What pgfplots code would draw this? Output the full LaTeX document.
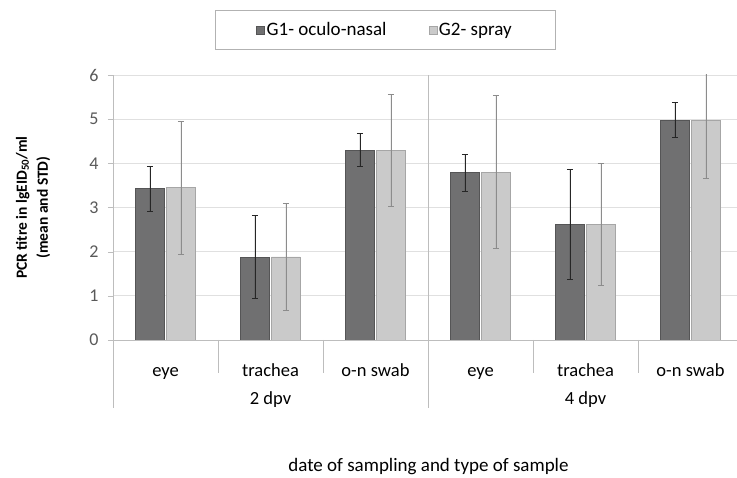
\documentclass[border=0pt]{standalone}
\usepackage{fontspec}
\setmainfont{Carlito}
\usepackage{pgfplots}
\pgfplotsset{compat=1.18}
\definecolor{gone}{HTML}{707071}
\definecolor{goneedge}{HTML}{555556}
\definecolor{gtwo}{HTML}{CACACA}
\definecolor{gtwoedge}{HTML}{A6A6A6}
\definecolor{ticktext}{HTML}{595959}
\definecolor{sepline}{HTML}{BDBDBD}

\begin{document}
\begin{tikzpicture}[x=1pt,y=1pt]
\useasboundingbox (0,0) rectangle (737,478);
\begin{axis}[
  at={(113pt,138pt)}, anchor=south west,
  scale only axis, width=630pt, height=265pt,
  xmin=-0.5, xmax=5.5, ymin=0, ymax=6,
  ybar, bar width=29pt,
  clip mode=individual,
  axis lines*=left,
  axis line style={sepline, line width=0.8pt},
  /pgf/number format/assume math mode=true,
  xtick={0,...,5},
  xticklabels={eye,trachea,o-n swab,eye,trachea,o-n swab},
  major x tick style={draw=none},
  xticklabel style={font=\fontsize{18.5}{20}\selectfont, anchor=center,
    text height=13pt, text depth=4pt, yshift=-27.5pt},
  ytick={0,...,6},
  tick align=outside, major tick length=5pt,
  major y tick style={sepline},
  yticklabel style={font=\fontsize{18}{20}\selectfont, text=ticktext, xshift=-6pt},
  ymajorgrids, grid style={black!12, line width=0.7pt},
  ylabel={PCR titre in lgEID$_{\mathbf{50}}$/ml\\(mean and STD)},
  ylabel style={at={(axis description cs:-0.1270,0.5)}, anchor=center,
    align=center, font=\bfseries\fontsize{15.5}{21}\selectfont},
  xlabel={date of sampling and type of sample},
  xlabel style={at={(axis description cs:0.5008,-0.479)}, anchor=center,
    font=\fontsize{19}{21}\selectfont},
  legend columns=2,
  legend style={at={(axis description cs:0.4317,1.1698)}, anchor=center,
    draw=black!30, font=\fontsize{19}{21}\selectfont,
    inner xsep=41pt, inner ysep=10pt,
    /tikz/every even column/.append style={column sep=40pt}},
  legend image code/.code={\draw[#1] (0pt,-4pt) rectangle (8pt,4pt);},
]
% G1 - oculo-nasal
\addplot[fill=gone, draw=goneedge,
  error bars/.cd, y dir=both, y explicit,
  error bar style={black!85, line width=0.9pt},
  error mark options={rotate=90, mark size=3pt, black!85, line width=0.9pt}]
  coordinates {
    (0,3.43) +- (0,0.51)
    (1,1.87) +- (0,0.94)
    (2,4.30) +- (0,0.37)
    (3,3.79) +- (0,0.42)
    (4,2.62) +- (0,1.24)
    (5,4.98) +- (0,0.40)
  };
% G2 - spray
\addplot[fill=gtwo, draw=gtwoedge,
  error bars/.cd, y dir=both, y explicit,
  error bar style={black!45, line width=0.7pt},
  error mark options={rotate=90, mark size=3pt, black!45, line width=0.7pt}]
  coordinates {
    (0,3.45) +- (0,1.51)
    (1,1.88) +- (0,1.22)
    (2,4.30) +- (0,1.27)
    (3,3.80) +- (0,1.73)
    (4,2.62) +- (0,1.39)
    (5,4.98) +- (0,1.32)
  };
\legend{G1- oculo-nasal, G2- spray}
% divider between the two sampling days
\draw[sepline, line width=0.8pt] (axis cs:2.5,0) -- (axis cs:2.5,6);
% category separators below the axis
\draw[sepline, line width=0.8pt] (axis cs:0.5,0) -- ([yshift=-33pt]axis cs:0.5,0);
\draw[sepline, line width=0.8pt] (axis cs:1.5,0) -- ([yshift=-33pt]axis cs:1.5,0);
\draw[sepline, line width=0.8pt] (axis cs:3.5,0) -- ([yshift=-33pt]axis cs:3.5,0);
\draw[sepline, line width=0.8pt] (axis cs:4.5,0) -- ([yshift=-33pt]axis cs:4.5,0);
\draw[sepline, line width=0.8pt] (axis cs:-0.5,0) -- ([yshift=-68pt]axis cs:-0.5,0);
\draw[sepline, line width=0.8pt] (axis cs:2.5,0) -- ([yshift=-68pt]axis cs:2.5,0);
\draw[sepline, line width=0.8pt] (axis cs:5.5,0) -- ([yshift=-68pt]axis cs:5.5,0);
% sampling day labels
\node[font=\fontsize{18.5}{20}\selectfont, anchor=base] at ([yshift=-65pt]axis cs:1,0) {2 dpv};
\node[font=\fontsize{18.5}{20}\selectfont, anchor=base] at ([yshift=-65pt]axis cs:4,0) {4 dpv};
\end{axis}
\end{tikzpicture}
\end{document}
